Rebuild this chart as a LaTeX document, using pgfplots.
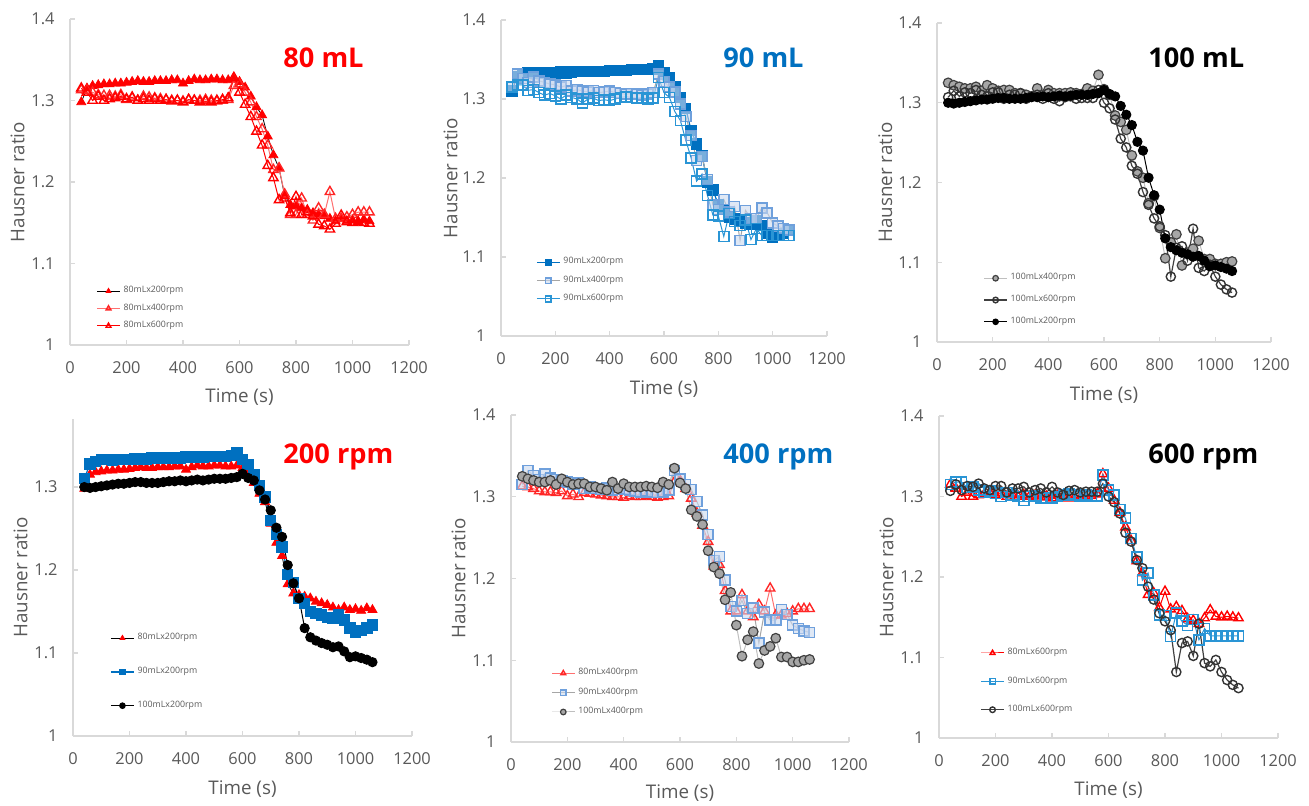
\documentclass[border=0pt]{standalone}
\usepackage{fontspec}
\setmainfont{Open Sans}
\usepackage{pgfplots}
\usepackage{pgfplotstable}
\pgfplotsset{compat=1.18}

\definecolor{axgray}{HTML}{D9D9D9}
\definecolor{txtgray}{HTML}{595959}
\definecolor{xlblue}{HTML}{0070C0}
\definecolor{ltblue}{HTML}{6FA0DC}
\definecolor{ltbluefill}{HTML}{C9D8EF}
\definecolor{cyblue}{HTML}{2A95D5}
\definecolor{pinkred}{HTML}{FF7070}

\newcommand{\tickfont}{\fontsize{8.2}{9}\selectfont}
\newcommand{\labfont}{\fontsize{9.4}{11}\selectfont}
\newcommand{\legfont}{\fontsize{4.4}{5}\selectfont}
\newcommand{\titfont}{\fontsize{13.6}{16}\selectfont\bfseries}

\pgfplotstableread{
t    A2    A4    A6    B2    B4    B6    C2    C4    C6
40   1.298 1.313 1.315 1.310 1.315 1.315 1.300 1.325 1.307
60   1.315 1.312 1.310 1.328 1.332 1.318 1.299 1.322 1.315
80   1.318 1.310 1.300 1.331 1.326 1.318 1.300 1.320 1.308
100  1.319 1.307 1.305 1.333 1.321 1.311 1.301 1.318 1.313
120  1.320 1.306 1.300 1.333 1.328 1.312 1.302 1.318 1.312
140  1.320 1.306 1.302 1.332 1.323 1.308 1.303 1.320 1.316
160  1.321 1.305 1.303 1.333 1.321 1.305 1.304 1.315 1.310
180  1.321 1.307 1.305 1.333 1.319 1.307 1.304 1.322 1.308
200  1.322 1.301 1.302 1.333 1.318 1.304 1.305 1.318 1.313
220  1.323 1.303 1.304 1.334 1.315 1.300 1.306 1.315 1.313
240  1.324 1.300 1.300 1.333 1.317 1.305 1.306 1.316 1.305
260  1.323 1.305 1.302 1.334 1.310 1.302 1.305 1.316 1.310
280  1.323 1.304 1.300 1.335 1.312 1.300 1.305 1.312 1.310
300  1.324 1.303 1.302 1.335 1.310 1.295 1.305 1.312 1.312
320  1.324 1.302 1.300 1.335 1.309 1.300 1.306 1.310 1.305
340  1.324 1.301 1.301 1.335 1.311 1.301 1.307 1.308 1.308
360  1.325 1.300 1.299 1.335 1.308 1.298 1.307 1.318 1.310
380  1.325 1.300 1.300 1.335 1.309 1.299 1.308 1.310 1.305
400  1.321 1.299 1.298 1.336 1.310 1.298 1.307 1.316 1.312
420  1.324 1.301 1.301 1.336 1.308 1.300 1.308 1.312 1.305
440  1.326 1.300 1.300 1.336 1.307 1.302 1.309 1.312 1.302
460  1.325 1.300 1.298 1.336 1.306 1.303 1.308 1.312 1.307
480  1.325 1.301 1.299 1.337 1.307 1.302 1.309 1.313 1.308
500  1.326 1.300 1.298 1.337 1.306 1.301 1.310 1.312 1.305
520  1.326 1.299 1.300 1.337 1.305 1.302 1.310 1.311 1.306
540  1.325 1.300 1.301 1.337 1.306 1.300 1.310 1.318 1.306
560  1.325 1.301 1.303 1.338 1.308 1.301 1.311 1.315 1.306
580  1.326 1.318 1.328 1.342 1.332 1.327 1.312 1.335 1.316
600  1.323 1.320 1.310 1.333 1.322 1.308 1.316 1.317 1.300
620  1.316 1.310 1.295 1.327 1.315 1.302 1.311 1.310 1.293
640  1.305 1.298 1.280 1.315 1.309 1.284 1.308 1.284 1.279
660  1.292 1.280 1.262 1.302 1.294 1.273 1.296 1.276 1.255
680  1.282 1.265 1.245 1.288 1.278 1.248 1.285 1.266 1.244
700  1.256 1.245 1.220 1.260 1.254 1.225 1.272 1.234 1.221
720  1.233 1.215 1.205 1.243 1.222 1.196 1.251 1.214 1.211
740  1.217 1.217 1.178 1.228 1.227 1.205 1.240 1.206 1.188
760  1.183 1.185 1.180 1.195 1.198 1.178 1.206 1.174 1.172
780  1.172 1.160 1.162 1.185 1.166 1.153 1.184 1.183 1.155
800  1.170 1.160 1.182 1.166 1.160 1.152 1.166 1.143 1.145
820  1.168 1.180 1.160 1.160 1.173 1.126 1.130 1.105 1.134
840  1.166 1.160 1.163 1.150 1.157 1.155 1.119 1.125 1.082
860  1.162 1.153 1.158 1.148 1.164 1.145 1.115 1.135 1.118
880  1.160 1.168 1.148 1.146 1.121 1.140 1.112 1.096 1.120
900  1.158 1.160 1.146 1.143 1.159 1.147 1.110 1.112 1.102
920  1.155 1.188 1.142 1.142 1.149 1.122 1.107 1.117 1.142
940  1.152 1.155 1.149 1.146 1.149 1.136 1.108 1.127 1.093
960  1.155 1.155 1.159 1.140 1.162 1.127 1.102 1.104 1.089
980  1.152 1.157 1.151 1.130 1.156 1.127 1.095 1.104 1.097
1000 1.153 1.160 1.150 1.125 1.143 1.127 1.096 1.098 1.082
1020 1.151 1.163 1.151 1.127 1.139 1.127 1.094 1.098 1.072
1040 1.154 1.163 1.150 1.130 1.136 1.127 1.092 1.100 1.066
1060 1.152 1.163 1.149 1.134 1.134 1.127 1.089 1.101 1.062
}\data

\pgfplotsset{
  panel/.style={
    scale only axis, anchor=south west,
    xmin=0, xmax=1200, ymin=1, ymax=1.4,
    xtick={0,200,...,1200}, ytick={1,1.1,1.2,1.3,1.4},
    axis lines=left, axis line style={-, draw=axgray, line width=0.6pt},
    tick style={draw=axgray, line width=0.6pt}, tick align=inside, major tick length=2.5pt,
    xticklabel style={anchor=center, yshift=-11.5pt, font=\tickfont, text=txtgray},
    yticklabel style={anchor=east, inner sep=0pt, xshift=-7.5pt, font=\tickfont, text=txtgray},
    xlabel={Time (s)}, ylabel={Hausner ratio},
    label style={font=\labfont, text=txtgray},
    xlabel style={anchor=center},
    ylabel style={at={(axis description cs:-0.155,0.5)}, anchor=center},
    /pgf/number format/1000 sep={}, /pgf/number format/assume math mode=true,
    legend cell align=left,
    legend style={anchor=north west, draw=none, fill=none, inner sep=0pt, font=\legfont,
      text=txtgray, nodes={inner sep=0.5pt}, column sep=1pt},
    legend image code/.code={\draw[mark repeat=2,mark phase=2,##1] plot coordinates {(0pt,0pt) (5.75pt,0pt) (11.5pt,0pt)};},
    legend image post style={mark size=1.4pt},
  },
  sA2/.style={draw=black, line width=0.4pt, mark=triangle*, mark size=2.6pt, mark options={draw=red, fill=red, line width=0.4pt}},
  sA4/.style={draw=pinkred, line width=0.5pt, mark=triangle, mark size=2.7pt, mark options={draw=red!85, line width=0.7pt}},
  sA6/.style={draw=red, line width=0.5pt, mark=triangle, mark size=2.7pt, mark options={draw=red, line width=0.7pt}},
  sB2/.style={draw=xlblue, line width=0.6pt, mark=square*, mark size=2.55pt, mark options={draw=xlblue, fill=xlblue}},
  sB4/.style={draw=black!35, line width=0.5pt, mark=square*, mark size=2.5pt, mark options={draw=ltblue, fill=ltbluefill, fill opacity=0.6, line width=0.8pt}},
  sB6/.style={draw=cyblue, line width=0.5pt, mark=square, mark size=2.5pt, mark options={draw=cyblue, line width=0.8pt}},
  sC2/.style={draw=black, line width=0.5pt, mark=*, mark size=2.3pt, mark options={draw=black, fill=black}},
  sC4/.style={draw=black!25, line width=0.5pt, mark=*, mark size=2.4pt, mark options={draw=black!75, fill=black!35, line width=0.6pt}},
  sC6/.style={draw=black!75, line width=0.6pt, mark=o, mark size=2.3pt, mark options={draw=black!80, line width=0.7pt}},
}

\begin{document}
\begin{tikzpicture}
\useasboundingbox (0,0) rectangle (654.5pt,-402.5pt);

% Panel 1: 80 mL
\begin{axis}[panel, at={(35pt,-172.5pt)}, width=169.5pt, height=163pt,
  xlabel style={at={(axis description cs:0.5,-0.16)}},
  legend style={at={(0.077,0.184)}, row sep=3.0pt}]
\addplot[sA2] table[x=t,y=A2]{\data}; \addlegendentry{80mLx200rpm}
\addplot[sA4] table[x=t,y=A4]{\data}; \addlegendentry{80mLx400rpm}
\addplot[sA6] table[x=t,y=A6]{\data}; \addlegendentry{80mLx600rpm}
\end{axis}

% Panel 2: 90 mL
\begin{axis}[panel, at={(250.5pt,-168pt)}, width=163pt, height=158pt,
  xlabel style={at={(axis description cs:0.5,-0.168)}},
  legend style={at={(0.107,0.253)}, row sep=3.5pt}]
\addplot[sB2] table[x=t,y=B2]{\data}; \addlegendentry{90mLx200rpm}
\addplot[sB4] table[x=t,y=B4]{\data}; \addlegendentry{90mLx400rpm}
\addplot[sB6] table[x=t,y=B6]{\data}; \addlegendentry{90mLx600rpm}
\end{axis}

% Panel 3: 100 mL
\begin{axis}[panel, at={(468.5pt,-171pt)}, width=167pt, height=159.5pt,
  xlabel style={at={(axis description cs:0.5,-0.166)}},
  legend style={at={(0.138,0.219)}, row sep=5.2pt}]
\addplot[sC4] table[x=t,y=C4]{\data}; \addlegendentry{100mLx400rpm}
\addplot[sC6] table[x=t,y=C6]{\data}; \addlegendentry{100mLx600rpm}
\addplot[sC2] table[x=t,y=C2]{\data}; \addlegendentry{100mLx200rpm}
\end{axis}

% Panel 4: 200 rpm
\begin{axis}[panel, at={(36.5pt,-368pt)}, width=169.5pt, height=158.5pt,
  ymax=1.382, ytick={1,1.1,1.2,1.3},
  xlabel style={at={(axis description cs:0.5,-0.167)}},
  legend style={at={(0.109,0.328)}, row sep=11.2pt}]
\addplot[sA2] table[x=t,y=A2]{\data}; \addlegendentry{80mLx200rpm}
\addplot[sB2] table[x=t,y=B2]{\data}; \addlegendentry{90mLx200rpm}
\addplot[sC2] table[x=t,y=C2]{\data}; \addlegendentry{100mLx200rpm}
\end{axis}

% Panel 5: 400 rpm
\begin{axis}[panel, at={(255.5pt,-371pt)}, width=169pt, height=163.5pt,
  xlabel style={at={(axis description cs:0.5,-0.157)}},
  legend style={at={(0.118,0.229)}, row sep=4.0pt}]
\addplot[sA4] table[x=t,y=A4]{\data}; \addlegendentry{80mLx400rpm}
\addplot[sB4] table[x=t,y=B4]{\data}; \addlegendentry{90mLx400rpm}
\addplot[sC4] table[x=t,y=C4]{\data}; \addlegendentry{100mLx400rpm}
\end{axis}

% Panel 6: 600 rpm
\begin{axis}[panel, at={(469.5pt,-369pt)}, width=169.5pt, height=161pt,
  xlabel style={at={(axis description cs:0.5,-0.161)}},
  legend style={at={(0.121,0.283)}, row sep=8.5pt}]
\addplot[sA6] table[x=t,y=A6]{\data}; \addlegendentry{80mLx600rpm}
\addplot[sB6] table[x=t,y=B6]{\data}; \addlegendentry{90mLx600rpm}
\addplot[sC6] table[x=t,y=C6]{\data}; \addlegendentry{100mLx600rpm}
\end{axis}

% Panel titles
\node[anchor=base west, inner sep=0pt, font=\titfont, text=red]    at (141.5pt,-33.5pt)  {80 mL};
\node[anchor=base west, inner sep=0pt, font=\titfont, text=xlblue] at (361.5pt,-33.5pt)  {90 mL};
\node[anchor=base west, inner sep=0pt, font=\titfont, text=black]  at (574pt,-33.5pt)    {100 mL};
\node[anchor=base west, inner sep=0pt, font=\titfont, text=red]    at (141.5pt,-231.5pt) {200 rpm};
\node[anchor=base west, inner sep=0pt, font=\titfont, text=xlblue] at (361.5pt,-231.5pt) {400 rpm};
\node[anchor=base west, inner sep=0pt, font=\titfont, text=black]  at (574pt,-231.5pt)   {600 rpm};
\end{tikzpicture}
\end{document}
